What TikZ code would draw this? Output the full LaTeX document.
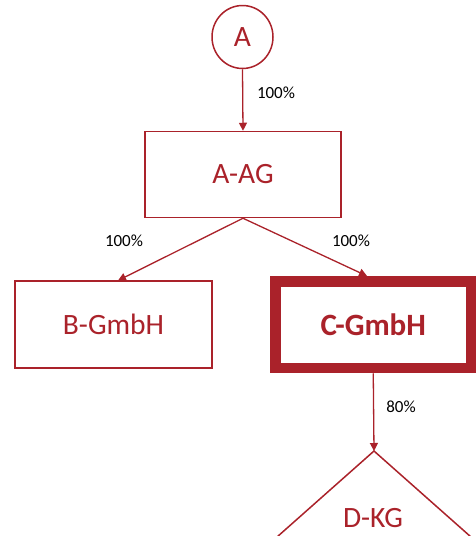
\documentclass[tikz,border=0pt]{standalone}
\usepackage{fontspec}
\setmainfont{Carlito}
\usetikzlibrary{arrows.meta,shapes.geometric}
\definecolor{dred}{RGB}{170,34,42}
\tikzset{
  box/.style={draw=dred, line width=1.5pt, text=dred, inner sep=0pt, font=\fontsize{29.5}{31}\selectfont},
  conn/.style={draw=dred, line width=1.3pt, -{Triangle[length=8pt,width=8pt]}},
  pct/.style={text=black, font=\fontsize{17}{19}\selectfont, inner sep=0pt}
}
\begin{document}
\begin{tikzpicture}[x=1pt,y=-1pt]
\useasboundingbox (0,0) rectangle (475,536);
\node[box, ellipse, minimum width=61pt, minimum height=63pt, text depth=0pt] (A) at (242.5,37) {A};
\node[box, minimum width=196pt, minimum height=86pt] (AAG) at (243,174.5) {A-AG};
\node[box, minimum width=197pt, minimum height=87pt] (B) at (113.5,324.5) {B-GmbH};
\node[draw=dred, line width=10.5pt, text=dred, inner sep=0pt, minimum width=195.5pt, minimum height=86.5pt, font=\fontsize{31}{33}\selectfont\bfseries] (C) at (373.25,324.75) {C-GmbH};
\coordinate (Dtop) at (374,451);
\node[text=dred, font=\fontsize{29.5}{31}\selectfont, inner sep=0pt] (D) at (373,518) {D-KG};
\draw[dred, line width=1.5pt] (277,537) -- (Dtop) -- (471,537);
\draw[conn] (A.south) -- (AAG.north);
\draw[conn] (AAG.south) -- (118,280.5);
\draw[conn] (AAG.south) -- (367,276);
\draw[conn] (C.south) -- (Dtop);
\node[pct] (p1) at (276,93) {100\%};
\node[pct] (p2) at (124,241) {100\%};
\node[pct] (p3) at (351,241) {100\%};
\node[pct] (p4) at (401,407) {80\%};
\end{tikzpicture}
\end{document}
